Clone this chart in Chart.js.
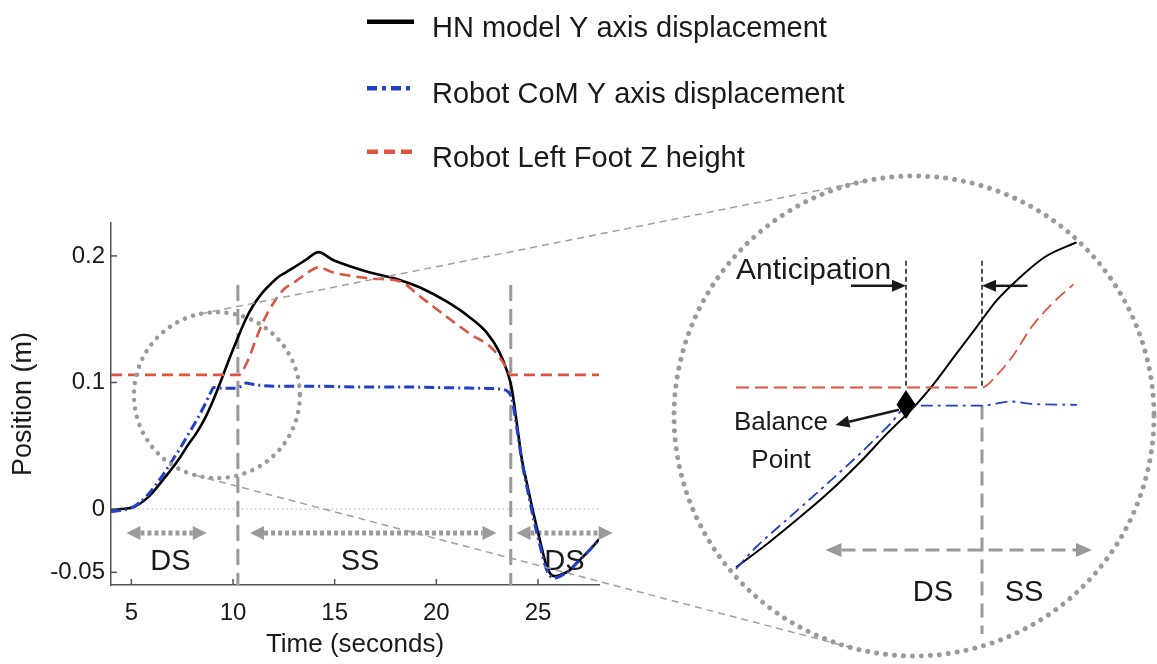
<!DOCTYPE html>
<html>
<head>
<meta charset="utf-8">
<script src="https://cdn.jsdelivr.net/npm/chart.js@4.4.0/dist/chart.umd.min.js"></script>
<style>
  html, body { margin: 0; padding: 0; background: #fff; overflow: hidden; }
  #figure { position: relative; width: 1157px; height: 664px; overflow: hidden; }
  #main, #zoom { position: absolute; left: 0; top: 0; }
</style>
</head>
<body>
<div id="figure">
  <canvas id="main" width="1157" height="664"></canvas>
  <canvas id="zoom"></canvas>
</div>
<script>
// main plot, time in seconds, position in metres
const hnTime = [4.0, 4.5, 5.0, 5.4, 5.8, 6.2, 6.6, 7.0, 7.4, 7.8, 8.2, 8.6, 9.0, 9.4, 9.8, 10.2, 10.6, 11.0, 11.4, 11.8, 12.2, 12.6, 13.0, 13.6, 14.2, 14.9, 15.9, 16.7, 17.5, 18.2, 19.2, 20.5, 21.6, 22.5, 23.1, 23.5, 23.7, 24.0, 24.2, 24.5, 24.8, 25.1, 25.4, 25.6, 25.8, 26.1, 26.5, 27.0, 27.5, 28.0];
const hnPos = [-0.001, 0.000, 0.001, 0.004, 0.009, 0.016, 0.024, 0.032, 0.041, 0.051, 0.060, 0.071, 0.085, 0.101, 0.118, 0.134, 0.149, 0.161, 0.170, 0.177, 0.183, 0.187, 0.191, 0.197, 0.203, 0.197, 0.191, 0.187, 0.184, 0.181, 0.175, 0.164, 0.152, 0.139, 0.124, 0.108, 0.096, 0.063, 0.040, 0.017, -0.005, -0.025, -0.044, -0.051, -0.053, -0.052, -0.049, -0.041, -0.033, -0.024];

const comTime = [4.0, 4.5, 5.0, 5.4, 5.8, 6.2, 6.6, 7.0, 7.4, 7.8, 8.2, 8.6, 8.9, 9.05, 9.5, 10.0, 10.4, 10.65, 10.85, 11.2, 12.0, 14.0, 16.0, 18.0, 20.0, 22.0, 23.0, 23.5, 23.7, 24.0, 24.2, 24.5, 24.8, 25.1, 25.4, 25.6, 25.8, 26.1, 26.5, 27.0, 27.5, 28.0];
const comPos = [-0.002, -0.001, 0.001, 0.005, 0.011, 0.019, 0.028, 0.038, 0.048, 0.059, 0.070, 0.082, 0.092, 0.096, 0.0955, 0.0955, 0.097, 0.0995, 0.099, 0.098, 0.097, 0.097, 0.0965, 0.0965, 0.096, 0.0955, 0.095, 0.093, 0.088, 0.060, 0.038, 0.014, -0.009, -0.029, -0.047, -0.053, -0.0545, -0.053, -0.049, -0.041, -0.033, -0.024];

const footTime = [4.0, 10.3, 10.5, 10.8, 11.1, 11.4, 11.7, 12.0, 12.3, 12.6, 13.0, 13.6, 14.2, 14.9, 15.9, 16.9, 18.2, 19.2, 20.5, 21.6, 22.8, 23.4, 23.65, 28.0];
const footPos = [0.106, 0.106, 0.110, 0.120, 0.133, 0.145, 0.155, 0.163, 0.170, 0.175, 0.179, 0.186, 0.191, 0.187, 0.184, 0.182, 0.180, 0.168, 0.152, 0.139, 0.126, 0.113, 0.106, 0.106];

const xTicks = [5, 10, 15, 20, 25];
const yTicks = [-0.05, 0, 0.1, 0.2];
const yTickLabels = ['-0.05', '0', '0.1', '0.2'];

// gait phases
const phaseLines = [10.24, 23.66];
const phaseLineTop = 0.177;
const phaseArrows = [[4.76, 8.71], [10.84, 22.96], [23.94, 28.67]];
const phaseArrowPos = -0.019;
const phaseNames = ['DS', 'SS', 'DS'];
const phaseNameTime = [6.92, 16.25, 26.3];
const phaseNamePos = -0.042;

// dotted ring round the region that is blown up (centre t, v and radius in s)
const ring = { t: 9.21, v: 0.09, rt: 4.08 };

// blown up view
const zoomHnTime = [5.35, 5.90, 6.45, 7.14, 7.82, 8.37, 8.92, 9.33, 9.74, 10.15, 10.56, 10.98, 11.52, 12.17];
const zoomHnPos = [0.0067, 0.018, 0.0303, 0.0464, 0.0644, 0.0805, 0.0956, 0.1089, 0.124, 0.139, 0.154, 0.1656, 0.178, 0.1864];
const zoomComTime = [5.35, 5.76, 6.45, 7.14, 7.82, 8.44, 8.78, 9.06, 10.29, 10.56, 10.83, 11.24, 12.17];
const zoomComPos = [0.0058, 0.018, 0.035, 0.052, 0.0692, 0.086, 0.0956, 0.096, 0.096, 0.0971, 0.0983, 0.097, 0.0964];
const zoomFootTime = [5.35, 10.27, 10.56, 10.9, 11.25, 11.66, 12.1];
const zoomFootPos = [0.106, 0.106, 0.1126, 0.124, 0.139, 0.152, 0.163];

const zoomPhaseTime = 10.27;
const zoomPhaseSpan = [0.096, -0.0302];
const zoomArrow = [7.14, 12.47];
const zoomArrowPos = 0.0162;
const zoomNameTime = [9.29, 11.11];
const zoomNamePos = -0.0075;
const anticipationTimes = [8.75, 10.27];
const anticipationSpan = [0.176, 0.106];
const anticipationArrows = [[7.65, 8.75], [11.18, 10.27]];
const anticipationArrowPos = 0.1622;
const balancePoint = { t: 8.75, v: 0.0966 };
const balanceArrow = [[8.61, 0.0937], [7.34, 0.0853]];

const ZOOM_BOX = { left: 668, top: 170, size: 492 };
const ZOOM_RADIUS = 240;
const ZOOM_X = [3.99, 13.83];
const ZOOM_Y = [-0.0457, 0.2262];

const FONT = '"Liberation Sans", Arial, Helvetica, sans-serif';
const INK = '#1a1a1a';
const GREY = '#9a9a9a';

function pts(ts, vs) { return ts.map((t, i) => ({ x: t, y: vs[i] })); }

function line(ctx, x1, y1, x2, y2) {
  ctx.beginPath(); ctx.moveTo(x1, y1); ctx.lineTo(x2, y2); ctx.stroke();
}

function drawArrow(ctx, x1, y1, x2, y2, o) {
  const a = Math.atan2(y2 - y1, x2 - x1);
  const ux = Math.cos(a), uy = Math.sin(a);
  const sx = o.both ? x1 + ux * o.head : x1, sy = o.both ? y1 + uy * o.head : y1;
  ctx.save();
  ctx.strokeStyle = o.color; ctx.lineWidth = o.width; ctx.setLineDash(o.dash || []);
  line(ctx, sx, sy, x2 - ux * o.head, y2 - uy * o.head);
  ctx.setLineDash([]); ctx.fillStyle = o.color;
  const head = (px, py, ang) => {
    const c = Math.cos(ang), s = Math.sin(ang);
    ctx.beginPath();
    ctx.moveTo(px, py);
    ctx.lineTo(px - c * o.head - s * o.half, py - s * o.head + c * o.half);
    ctx.lineTo(px - c * o.head + s * o.half, py - s * o.head - c * o.half);
    ctx.closePath(); ctx.fill();
  };
  head(x2, y2, a);
  if (o.both) head(x1, y1, a + Math.PI);
  ctx.restore();
}

const mainDecor = {
  id: 'mainDecor',
  beforeDatasetsDraw(chart) {
    const { ctx, chartArea } = chart;
    const x = chart.scales.x, y = chart.scales.y;
    ctx.save();
    // zero line
    ctx.strokeStyle = '#b0b0b0'; ctx.lineWidth = 1; ctx.setLineDash([1.5, 3]);
    line(ctx, chartArea.left, y.getPixelForValue(0), chartArea.right, y.getPixelForValue(0));
    // phase boundaries
    ctx.strokeStyle = GREY; ctx.lineWidth = 3; ctx.setLineDash([16, 8]);
    phaseLines.forEach(t => line(ctx, x.getPixelForValue(t), y.getPixelForValue(phaseLineTop), x.getPixelForValue(t), chartArea.bottom));
    ctx.restore();
    phaseArrows.forEach(([a, b]) => {
      const py = y.getPixelForValue(phaseArrowPos);
      drawArrow(ctx, x.getPixelForValue(a), py, x.getPixelForValue(b), py,
        { color: GREY, width: 5, dash: [4, 3], head: 14, half: 7, both: true });
    });
    ctx.save();
    ctx.fillStyle = INK; ctx.font = '29px ' + FONT;
    ctx.textAlign = 'center'; ctx.textBaseline = 'middle';
    phaseNames.forEach((n, i) => ctx.fillText(n, x.getPixelForValue(phaseNameTime[i]), y.getPixelForValue(phaseNamePos)));
    ctx.restore();
  },
  afterDatasetsDraw(chart) {
    const { ctx, chartArea } = chart;
    const x = chart.scales.x, y = chart.scales.y;
    ctx.save();
    // inward ticks
    ctx.strokeStyle = '#555'; ctx.lineWidth = 1.5;
    xTicks.forEach(t => line(ctx, x.getPixelForValue(t), chartArea.bottom, x.getPixelForValue(t), chartArea.bottom - 6));
    yTicks.forEach(v => line(ctx, chartArea.left, y.getPixelForValue(v), chartArea.left + 6, y.getPixelForValue(v)));
    // dotted ring
    const c1 = { x: x.getPixelForValue(ring.t), y: y.getPixelForValue(ring.v) };
    const r1 = x.getPixelForValue(ring.t + ring.rt) - c1.x;
    ctx.strokeStyle = GREY; ctx.lineWidth = 4.5; ctx.lineCap = 'round'; ctx.setLineDash([0.01, 8.5]);
    ctx.beginPath(); ctx.arc(c1.x, c1.y, r1, 0, Math.PI * 2); ctx.stroke();
    // tangents to the big circle
    const c2 = { x: ZOOM_BOX.left + ZOOM_BOX.size / 2, y: ZOOM_BOX.top + ZOOM_BOX.size / 2 };
    const dx = c2.x - c1.x, dy = c2.y - c1.y, d = Math.hypot(dx, dy);
    const base = Math.atan2(dy, dx), th = Math.acos((r1 - ZOOM_RADIUS) / d);
    ctx.lineCap = 'butt'; ctx.lineWidth = 1.5; ctx.setLineDash([7, 5]); ctx.strokeStyle = '#a0a0a0';
    [base + th, base - th].forEach(a => {
      const nx = Math.cos(a), ny = Math.sin(a);
      line(ctx, c1.x + r1 * nx, c1.y + r1 * ny, c2.x + ZOOM_RADIUS * nx, c2.y + ZOOM_RADIUS * ny);
    });
    ctx.restore();
  },
  afterDraw(chart) {
    // legend
    const { ctx } = chart;
    const rows = [36.7, 103.3, 166.7];
    ctx.save();
    ctx.font = '29px ' + FONT; ctx.textBaseline = 'alphabetic'; ctx.textAlign = 'left';
    chart.data.datasets.forEach((ds, i) => {
      ctx.strokeStyle = ds.borderColor; ctx.lineWidth = 4.5;
      ctx.setLineDash(ds.legendDash);
      line(ctx, 367, rows[i] - 15, 414, rows[i] - 15);
      ctx.fillStyle = INK;
      ctx.fillText(ds.label, 432, rows[i]);
    });
    ctx.restore();
  }
};

const tickFont = { size: 24, family: FONT };
const titleFont = { size: 26, family: FONT };

new Chart(document.getElementById('main'), {
  type: 'line',
  data: {
    datasets: [
      { label: 'HN model Y axis displacement', data: pts(hnTime, hnPos), borderColor: '#000', borderWidth: 2.6, order: 2, legendDash: [] },
      { label: 'Robot CoM Y axis displacement', data: pts(comTime, comPos), borderColor: '#2140c8', borderWidth: 3, borderDash: [10, 4, 2, 4], order: 0, legendDash: [10, 5, 4, 5] },
      { label: 'Robot Left Foot Z height', data: pts(footTime, footPos), borderColor: '#e0533f', borderWidth: 2.6, borderDash: [11, 6], order: 1, legendDash: [11, 6] }
    ]
  },
  options: {
    responsive: false,
    animation: false,
    layout: { padding: { top: 223, right: 558, left: 0, bottom: 0 } },
    elements: { point: { radius: 0 }, line: { cubicInterpolationMode: 'monotone' } },
    plugins: { legend: { display: false }, tooltip: { enabled: false } },
    scales: {
      x: {
        type: 'linear', min: 4, max: 28,
        afterFit: s => { s.height = 79; },
        afterBuildTicks: s => { s.ticks = xTicks.map(v => ({ value: v })); },
        grid: { display: false, drawTicks: false },
        border: { color: '#555', width: 1.5 },
        ticks: { padding: 14, color: INK, font: tickFont, maxRotation: 0, autoSkip: false },
        title: { display: true, text: 'Time (seconds)', color: INK, font: titleFont, padding: { top: 0, bottom: 4 } }
      },
      y: {
        type: 'linear', min: -0.06, max: 0.226,
        afterFit: s => { s.width = 111; },
        afterBuildTicks: s => { s.ticks = yTicks.map(v => ({ value: v })); },
        grid: { display: false, drawTicks: false },
        border: { color: '#555', width: 1.5 },
        ticks: { padding: 6, color: INK, font: tickFont, autoSkip: false, callback: (v, i) => yTickLabels[i] },
        title: { display: true, text: 'Position (m)', color: INK, font: { size: 27, family: FONT }, padding: { top: 7, bottom: 0 } }
      }
    }
  },
  plugins: [mainDecor]
});

const zoomDecor = {
  id: 'zoomDecor',
  beforeDatasetsDraw(chart) {
    const { ctx, width, height } = chart;
    const x = chart.scales.x, y = chart.scales.y;
    ctx.save();
    ctx.strokeStyle = GREY; ctx.lineWidth = 3; ctx.setLineDash([14, 8]);
    const px = x.getPixelForValue(zoomPhaseTime);
    line(ctx, px, y.getPixelForValue(zoomPhaseSpan[0]), px, y.getPixelForValue(zoomPhaseSpan[1]));
    ctx.restore();
    const ay = y.getPixelForValue(zoomArrowPos);
    drawArrow(ctx, x.getPixelForValue(zoomArrow[0]), ay, x.getPixelForValue(zoomArrow[1]), ay,
      { color: GREY, width: 3, dash: [14, 7], head: 16, half: 7, both: true });
    ctx.save();
    ctx.fillStyle = INK; ctx.font = '29px ' + FONT; ctx.textAlign = 'center'; ctx.textBaseline = 'middle';
    ['DS', 'SS'].forEach((n, i) => ctx.fillText(n, x.getPixelForValue(zoomNameTime[i]), y.getPixelForValue(zoomNamePos)));
    ctx.restore();
    // keep the curves inside the circle
    ctx.save();
    ctx.beginPath(); ctx.arc(width / 2, height / 2, ZOOM_RADIUS - 2, 0, Math.PI * 2); ctx.clip();
  },
  afterDatasetsDraw(chart) {
    const { ctx, width, height } = chart;
    const x = chart.scales.x, y = chart.scales.y;
    ctx.restore();
    ctx.save();
    // anticipation markers
    ctx.strokeStyle = INK; ctx.lineWidth = 1.5; ctx.setLineDash([5, 3]);
    anticipationTimes.forEach(t => line(ctx, x.getPixelForValue(t), y.getPixelForValue(anticipationSpan[0]), x.getPixelForValue(t), y.getPixelForValue(anticipationSpan[1])));
    ctx.restore();
    const ay = y.getPixelForValue(anticipationArrowPos);
    anticipationArrows.forEach(([a, b]) => drawArrow(ctx, x.getPixelForValue(a), ay, x.getPixelForValue(b), ay,
      { color: INK, width: 2.5, head: 14, half: 6 }));
    // balance point
    const bx = x.getPixelForValue(balancePoint.t), by = y.getPixelForValue(balancePoint.v);
    ctx.save();
    ctx.fillStyle = '#000';
    ctx.beginPath(); ctx.moveTo(bx, by - 14.5); ctx.lineTo(bx + 9.5, by); ctx.lineTo(bx, by + 14.5); ctx.lineTo(bx - 9.5, by); ctx.closePath(); ctx.fill();
    ctx.restore();
    drawArrow(ctx, x.getPixelForValue(balanceArrow[0][0]), y.getPixelForValue(balanceArrow[0][1]),
      x.getPixelForValue(balanceArrow[1][0]), y.getPixelForValue(balanceArrow[1][1]),
      { color: INK, width: 2.5, head: 14, half: 6 });
    ctx.save();
    ctx.fillStyle = INK; ctx.textBaseline = 'middle';
    ctx.font = '30px ' + FONT; ctx.textAlign = 'left';
    ctx.fillText('Anticipation', x.getPixelForValue(5.35), y.getPixelForValue(0.1704));
    ctx.font = '26px ' + FONT; ctx.textAlign = 'center';
    ctx.fillText('Balance', x.getPixelForValue(6.25), y.getPixelForValue(0.0864));
    ctx.fillText('Point', x.getPixelForValue(6.25), y.getPixelForValue(0.0654));
    // dotted outline
    ctx.strokeStyle = GREY; ctx.lineWidth = 5; ctx.lineCap = 'round'; ctx.setLineDash([0.01, 9]);
    ctx.beginPath(); ctx.arc(width / 2, height / 2, ZOOM_RADIUS, 0, Math.PI * 2); ctx.stroke();
    ctx.restore();
  }
};

const zoomCanvas = document.getElementById('zoom');
zoomCanvas.width = ZOOM_BOX.size; zoomCanvas.height = ZOOM_BOX.size;
zoomCanvas.style.left = ZOOM_BOX.left + 'px'; zoomCanvas.style.top = ZOOM_BOX.top + 'px';

new Chart(zoomCanvas, {
  type: 'line',
  data: {
    datasets: [
      { data: pts(zoomHnTime, zoomHnPos), borderColor: '#000', borderWidth: 2, order: 2 },
      { data: pts(zoomComTime, zoomComPos), borderColor: '#2140c8', borderWidth: 1.8, borderDash: [12, 5, 3, 5], order: 0 },
      { data: pts(zoomFootTime, zoomFootPos), borderColor: '#e0533f', borderWidth: 1.8, borderDash: [13, 6], order: 1 }
    ]
  },
  options: {
    responsive: false,
    animation: false,
    layout: { padding: 0 },
    elements: { point: { radius: 0 }, line: { cubicInterpolationMode: 'monotone' } },
    plugins: { legend: { display: false }, tooltip: { enabled: false } },
    scales: {
      x: { type: 'linear', display: false, min: ZOOM_X[0], max: ZOOM_X[1] },
      y: { type: 'linear', display: false, min: ZOOM_Y[0], max: ZOOM_Y[1] }
    }
  },
  plugins: [zoomDecor]
});
</script>
</body>
</html>
